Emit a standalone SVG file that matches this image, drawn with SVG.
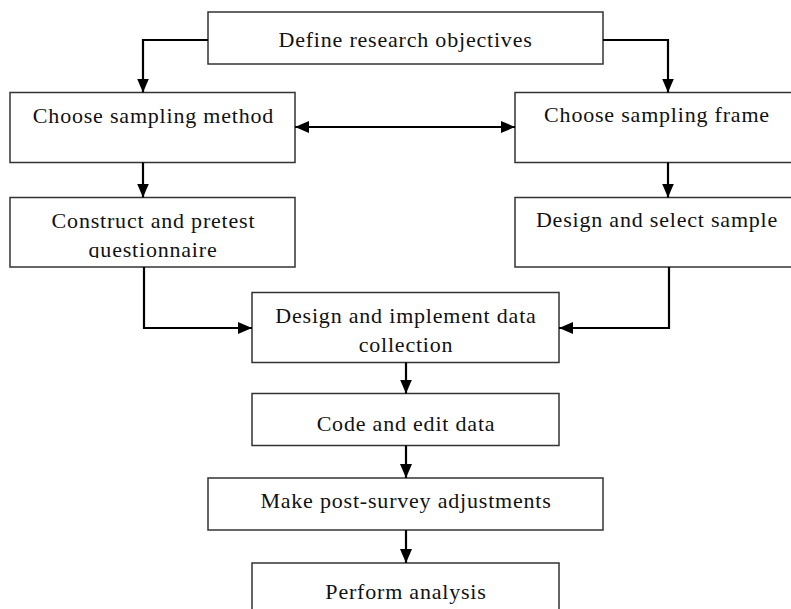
<svg xmlns="http://www.w3.org/2000/svg" width="791" height="609" viewBox="0 0 791 609">
<style>
.box{fill:#fff;stroke:#333;stroke-width:1.5}
.t{font-family:"Liberation Serif","Times New Roman",serif;font-size:22px;letter-spacing:0.8px;fill:#111;text-anchor:middle}
.c{fill:none;stroke:#000;stroke-width:2.2}
</style>
<defs>
<marker id="ah" markerUnits="userSpaceOnUse" markerWidth="14" markerHeight="12" refX="14" refY="6" orient="auto-start-reverse">
<path d="M0,0 L14,6 L0,12 z" fill="#000"/>
</marker>
<clipPath id="clipq"><rect x="10" y="197" width="285" height="61"/></clipPath>
</defs>
<rect width="791" height="609" fill="#fff"/>
<g id="n-define"><rect class="box" x="208" y="12" width="395" height="52"/><text class="t" x="405.5" y="47">Define research objectives</text></g>
<g id="n-method"><rect class="box" x="10" y="92.5" width="285" height="70"/><text class="t" x="153.5" y="123">Choose sampling method</text></g>
<g id="n-frame"><rect class="box" x="515" y="92.5" width="283" height="70"/><text class="t" x="657" y="122">Choose sampling frame</text></g>
<g id="n-construct"><rect class="box" x="10" y="197.5" width="285" height="69.5"/><g clip-path="url(#clipq)"><text class="t" x="153.5" y="228">Construct and pretest</text><text class="t" x="153" y="257">questionnaire</text></g></g>
<g id="n-select"><rect class="box" x="515" y="197.5" width="283" height="69.5"/><text class="t" x="657" y="227">Design and select sample</text></g>
<g id="n-implement"><rect class="box" x="252" y="292.5" width="307" height="70"/><text class="t" x="406" y="323">Design and implement data</text><text class="t" x="406" y="352">collection</text></g>
<g id="n-code"><rect class="box" x="252" y="393.5" width="307" height="52"/><text class="t" x="406" y="431">Code and edit data</text></g>
<g id="n-make"><rect class="box" x="208" y="478" width="395" height="52"/><text class="t" x="406" y="508">Make post-survey adjustments</text></g>
<g id="n-perform"><rect class="box" x="252" y="563" width="307" height="60"/><text class="t" x="406" y="599">Perform analysis</text></g>
<g id="connectors">
<path class="c" d="M208,40 H143 V92.5" marker-end="url(#ah)"/>
<path class="c" d="M603,40 H668 V92.5" marker-end="url(#ah)"/>
<path class="c" d="M295,127 H515" marker-start="url(#ah)" marker-end="url(#ah)"/>
<path class="c" d="M143,162.5 V197.5" marker-end="url(#ah)"/>
<path class="c" d="M668,162.5 V197.5" marker-end="url(#ah)"/>
<path class="c" d="M144,267 V328 H252" marker-end="url(#ah)"/>
<path class="c" d="M669,267 V328 H559" marker-end="url(#ah)"/>
<path class="c" d="M406,362.5 V393.5" marker-end="url(#ah)"/>
<path class="c" d="M406,445.5 V478" marker-end="url(#ah)"/>
<path class="c" d="M406,530 V563" marker-end="url(#ah)"/>
</g>
</svg>
